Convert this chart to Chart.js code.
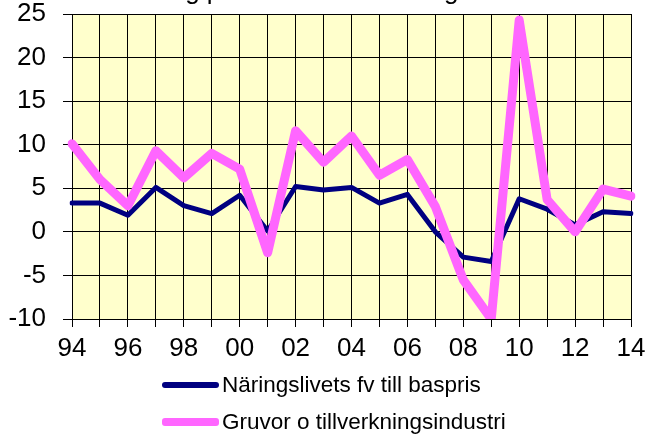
<!DOCTYPE html>
<html>
<head>
<meta charset="utf-8">
<script src="https://cdn.jsdelivr.net/npm/chart.js@4.4.1/dist/chart.umd.min.js"></script>
<style>
  body { margin: 0; background: #fff; font-family: "Liberation Sans", Arial, sans-serif; }
  #wrap { position: relative; width: 646px; height: 435px; overflow: hidden; }
  #chart { position: absolute; left: 0; top: 0; }
  .leg { position: absolute; left: 162px; height: 30px; display: flex; align-items: center;
         font-size: 22.5px; color: #000; white-space: nowrap; }
  .leg i { display: block; width: 57px; margin-right: 3px; border-radius: 3px; }
</style>
</head>
<body>
<div id="wrap">
  <canvas id="chart" width="646" height="435"></canvas>
  <div class="leg" style="top:370px"><i style="height:6px;background:#000080"></i>Näringslivets fv till baspris</div>
  <div class="leg" style="top:407px"><i style="height:8px;background:#ff66ff"></i>Gruvor o tillverkningsindustri</div>
</div>
<script>
const years = ['94','95','96','97','98','99','00','01','02','03','04','05','06','07','08','09','10','11','12','13','14'];
const naringsliv = [3.3, 3.3, 1.9, 5.1, 3.0, 2.1, 4.2, 0.1, 5.2, 4.8, 5.1, 3.3, 4.3, 0.0, -2.9, -3.4, 3.8, 2.6, 0.8, 2.3, 2.1];
const gruvor = [10.1, 6.0, 3.0, 9.3, 6.2, 9.0, 7.2, -2.4, 11.6, 8.0, 11.0, 6.5, 8.3, 2.9, -5.5, -10.0, 24.3, 3.7, 0.0, 4.9, 4.1];
const yTicks = [-10, -5, 0, 5, 10, 15, 20, 25];
const titleText = 'Årlig procentuell förändring';

const ctx = document.getElementById('chart').getContext('2d');

const plotBg = {
  id: 'plotBg',
  beforeDraw(chart) {
    const a = chart.chartArea, c = chart.ctx;
    c.save();
    c.fillStyle = '#ffffcc';
    c.fillRect(a.left, a.top, a.right - a.left, a.bottom - a.top);
    c.restore();
  }
};

// title sits mostly above the picture, only its lower edge shows
const clippedTitle = {
  id: 'clippedTitle',
  afterDraw(chart) {
    const c = chart.ctx;
    c.save();
    c.font = '26px "Liberation Sans", Arial, sans-serif';
    c.fillStyle = '#000';
    c.textAlign = 'center';
    c.textBaseline = 'alphabetic';
    c.fillText(titleText, 303, -1);
    c.restore();
  }
};

const font = { size: 26, family: '"Liberation Sans", Arial, sans-serif' };

new Chart(ctx, {
  type: 'line',
  data: {
    labels: years,
    datasets: [{
      label: 'Gruvor o tillverkningsindustri',
      data: gruvor,
      borderColor: '#ff66ff',
      borderWidth: 9,
      borderJoinStyle: 'round',
      borderCapStyle: 'round',
      pointRadius: 0,
      tension: 0,
      order: 0
    }, {
      label: 'Näringslivets fv till baspris',
      data: naringsliv,
      borderColor: '#000080',
      borderWidth: 5,
      borderJoinStyle: 'round',
      borderCapStyle: 'round',
      pointRadius: 0,
      tension: 0,
      order: 1
    }]
  },
  options: {
    responsive: false,
    devicePixelRatio: 1,
    animation: false,
    layout: { autoPadding: false, padding: { left: 7, right: 15, top: 14, bottom: 68 } },
    plugins: { legend: { display: false }, tooltip: { enabled: false }, title: { display: false } },
    scales: {
      x: {
        offset: false,
        grid: { color: '#000', lineWidth: 1, tickLength: 8, drawTicks: true },
        border: { color: '#000', width: 1 },
        ticks: {
          autoSkip: false, maxRotation: 0, padding: 6, color: '#000', font,
          callback: (v, i) => i % 2 === 0 ? years[i] : ''
        },
        afterFit: s => { s.height = 48; s.paddingLeft = 0; s.paddingRight = 0; }
      },
      y: {
        min: yTicks[0], max: yTicks[yTicks.length - 1],
        afterBuildTicks: s => { s.ticks = yTicks.map(v => ({ value: v })); },
        grid: { color: '#000', lineWidth: 1, tickLength: 9, drawTicks: true },
        border: { color: '#000', width: 1 },
        ticks: { padding: 17, color: '#000', font },
        afterFit: s => { s.width = 65; s.paddingTop = 0; s.paddingBottom = 0; }
      }
    }
  },
  plugins: [plotBg, clippedTitle]
});
</script>
</body>
</html>
